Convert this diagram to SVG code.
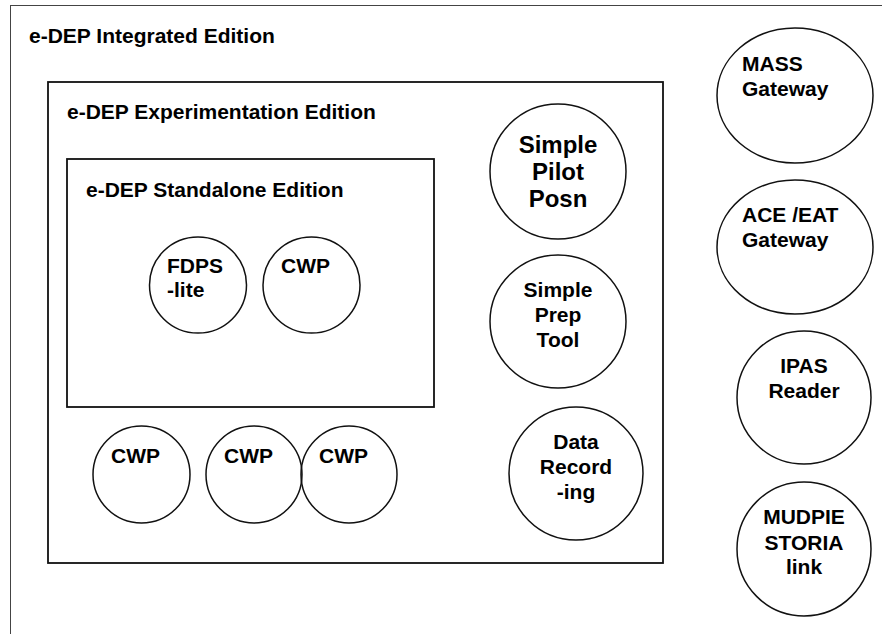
<svg xmlns="http://www.w3.org/2000/svg" width="882" height="634" viewBox="0 0 882 634">
<style>
text{font-family:"Liberation Sans",Arial,sans-serif;font-weight:bold;font-size:21px;fill:#000}
.box{fill:none;stroke:#111;stroke-width:1.8}
.node{fill:#fff;stroke:#111;stroke-width:1.5}
.mid{text-anchor:middle}
</style>
<rect width="882" height="634" fill="#fff"/>
<g id="integrated">
<rect x="10.5" y="5.5" width="900" height="700" fill="none" stroke="#444" stroke-width="1"/>
<text x="29" y="43">e-DEP Integrated Edition</text>
</g>
<g id="experimentation">
<rect class="box" x="48" y="82" width="615" height="481"/>
<text x="67" y="119">e-DEP Experimentation Edition</text>
</g>
<g id="standalone">
<rect class="box" x="67" y="159" width="367" height="248"/>
<text x="86" y="197">e-DEP Standalone Edition</text>
</g>
<g id="fdps">
<ellipse class="node" cx="198" cy="285" rx="48.5" ry="48"/>
<text x="167" y="273">FDPS</text>
<text x="167" y="297">-lite</text>
</g>
<g id="cwp0">
<ellipse class="node" cx="311.5" cy="285" rx="48.5" ry="48"/>
<text x="281" y="273">CWP</text>
</g>
<g id="cwp1">
<ellipse class="node" cx="141.5" cy="474.5" rx="48.5" ry="48.5"/>
<text x="111" y="463">CWP</text>
</g>
<g id="cwp2">
<ellipse class="node" cx="254" cy="474.5" rx="48" ry="48.5"/>
<text x="224" y="463">CWP</text>
</g>
<g id="cwp3">
<ellipse class="node" cx="349" cy="474.5" rx="48" ry="48.5" fill="none" style="fill:none"/>
<text x="319" y="463">CWP</text>
</g>
<g id="pilot">
<ellipse class="node" cx="558" cy="171.5" rx="68" ry="67.5"/>
<text class="mid" x="558" y="153" style="font-size:24px">Simple</text>
<text class="mid" x="558" y="180" style="font-size:24px">Pilot</text>
<text class="mid" x="558" y="207" style="font-size:24px">Posn</text>
</g>
<g id="prep">
<ellipse class="node" cx="558" cy="321.5" rx="68" ry="66.5"/>
<text class="mid" x="558" y="297">Simple</text>
<text class="mid" x="558" y="322">Prep</text>
<text class="mid" x="558" y="347">Tool</text>
</g>
<g id="recording">
<ellipse class="node" cx="576" cy="473.5" rx="67" ry="66.5"/>
<text class="mid" x="576" y="449">Data</text>
<text class="mid" x="576" y="474">Record</text>
<text class="mid" x="576" y="499">-ing</text>
</g>
<g id="mass">
<ellipse class="node" cx="795" cy="95.5" rx="78" ry="67.5"/>
<text x="742" y="71">MASS</text>
<text x="742" y="96">Gateway</text>
</g>
<g id="ace">
<ellipse class="node" cx="795" cy="247" rx="78" ry="67"/>
<text x="742" y="222">ACE /EAT</text>
<text x="742" y="247">Gateway</text>
</g>
<g id="ipas">
<ellipse class="node" cx="804" cy="397.5" rx="67" ry="66.5"/>
<text class="mid" x="804" y="373">IPAS</text>
<text class="mid" x="804" y="398">Reader</text>
</g>
<g id="mudpie">
<ellipse class="node" cx="804" cy="549" rx="67" ry="67"/>
<text class="mid" x="804" y="524">MUDPIE</text>
<text class="mid" x="804" y="550">STORIA</text>
<text class="mid" x="804" y="574">link</text>
</g>
<g id="connectors"/>
</svg>
